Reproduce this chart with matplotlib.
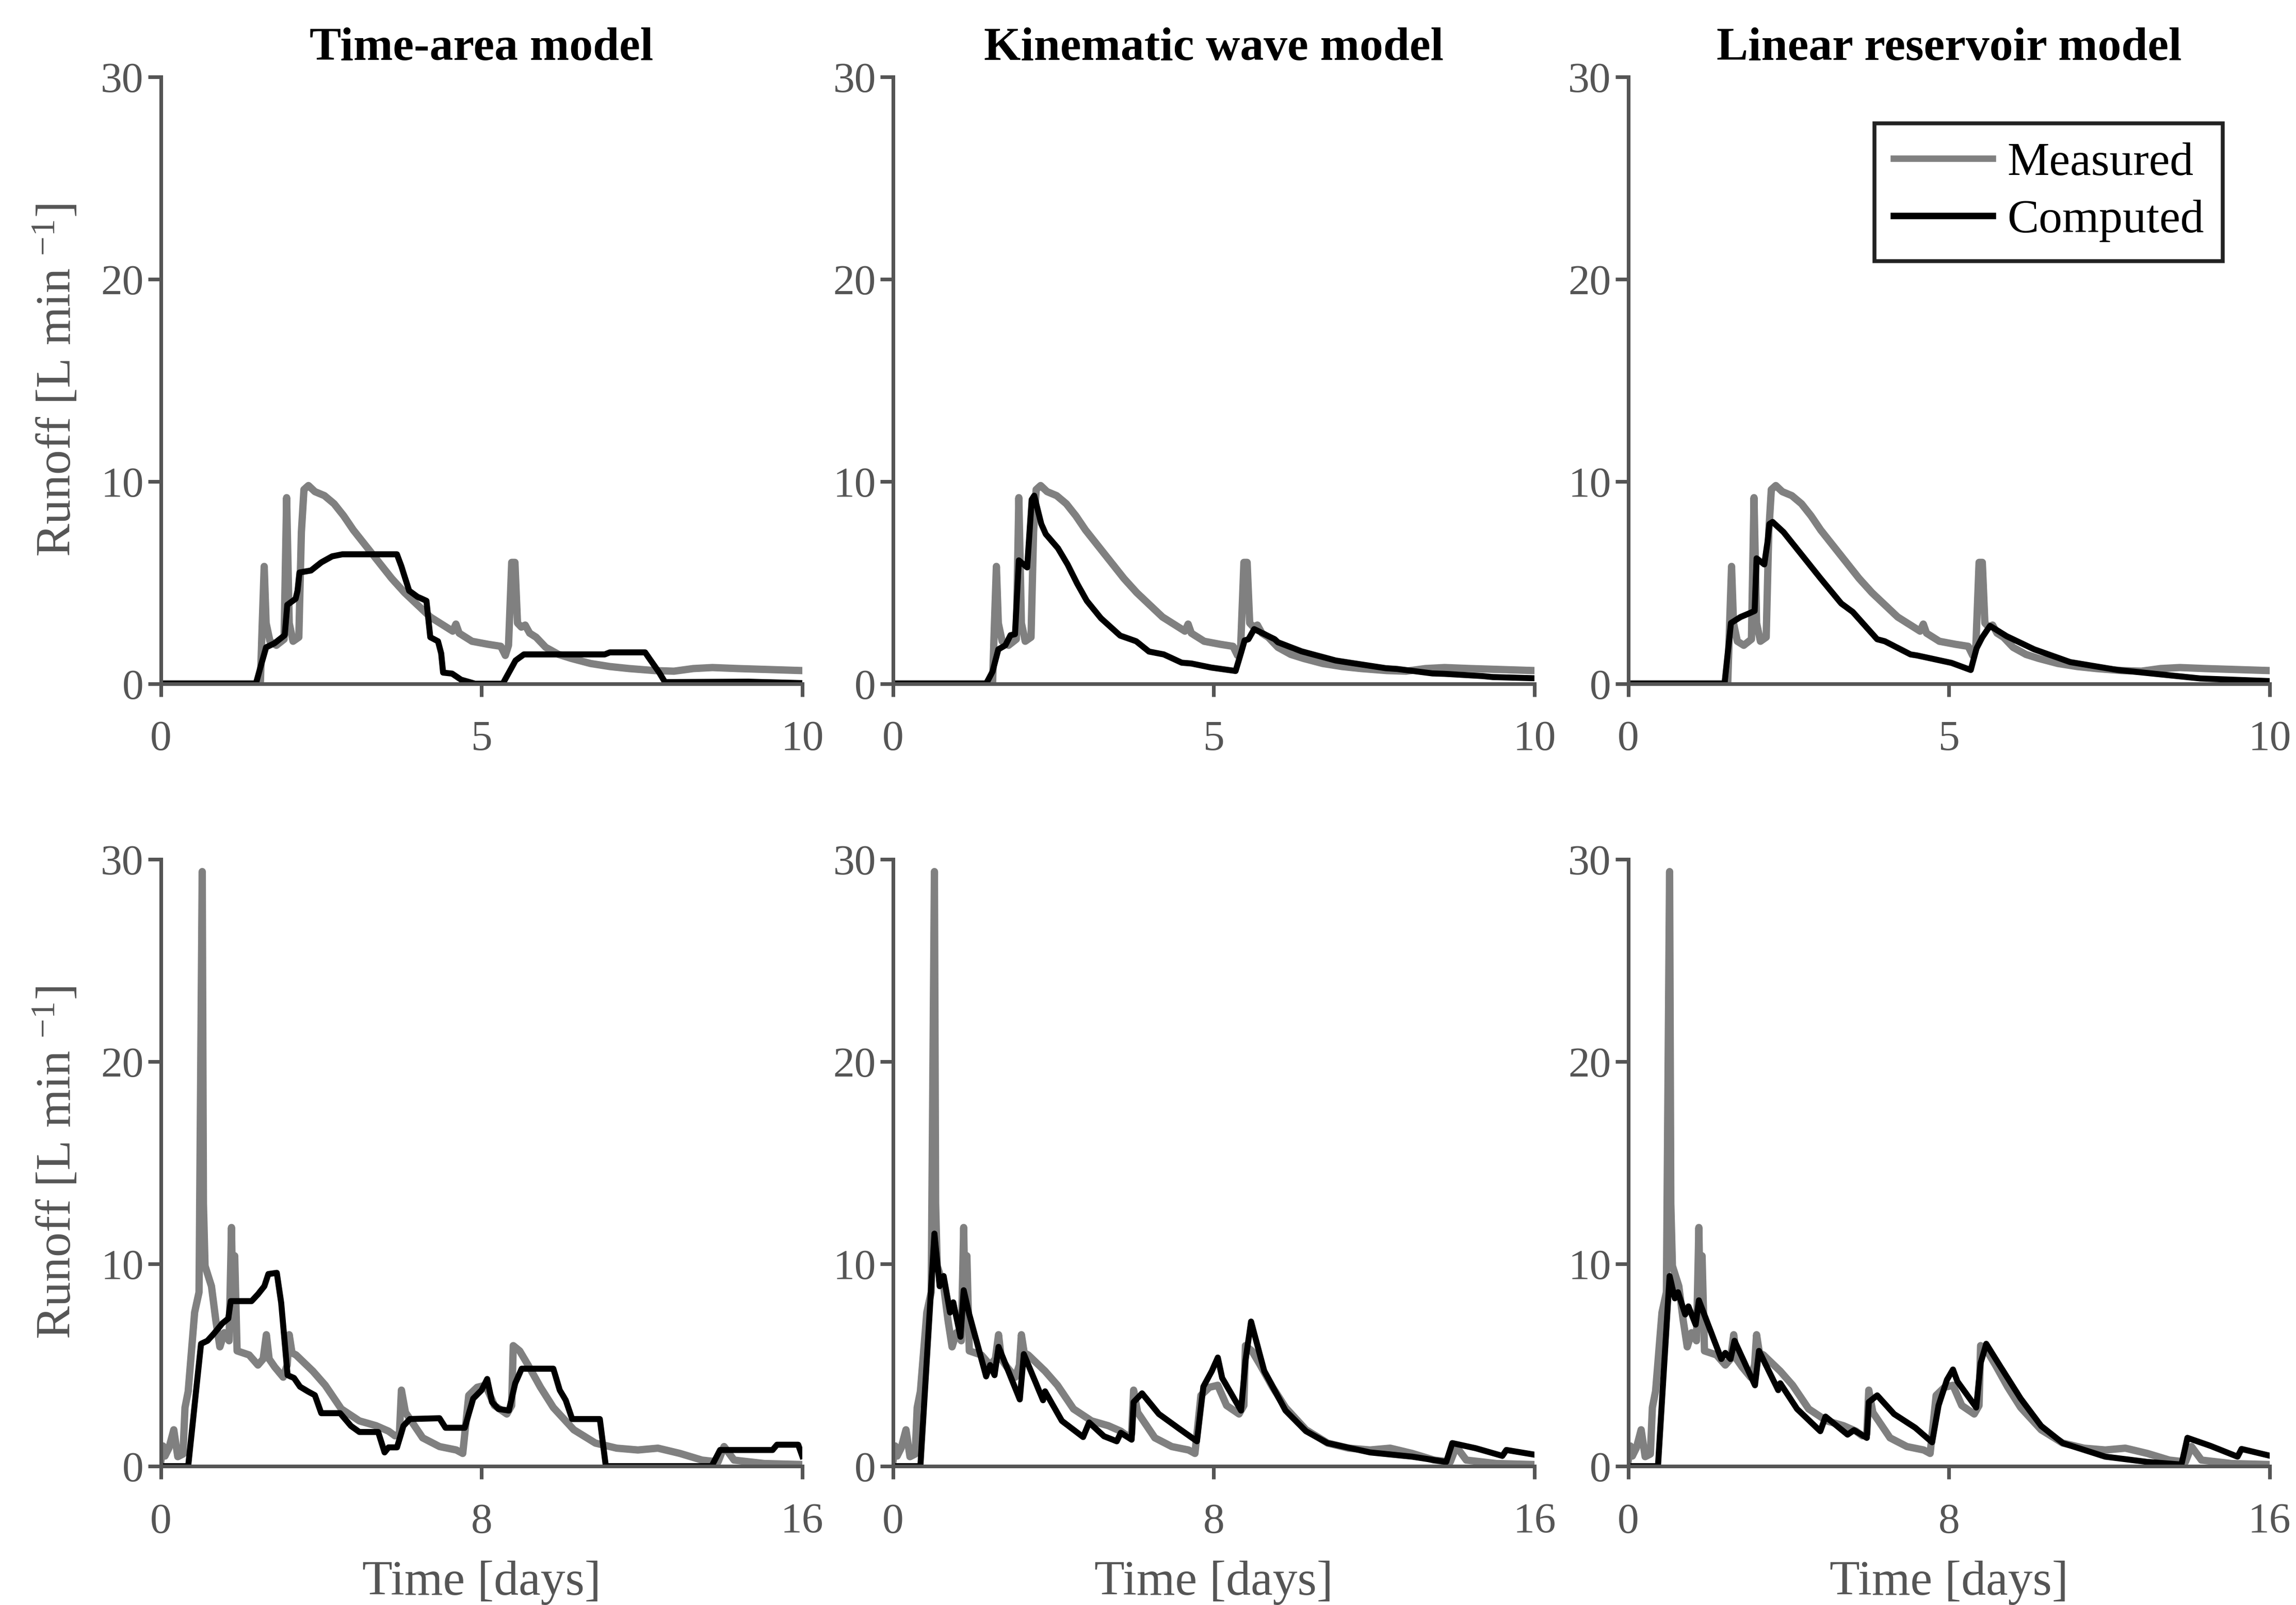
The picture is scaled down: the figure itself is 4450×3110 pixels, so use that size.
import matplotlib
matplotlib.use("Agg")
import matplotlib.pyplot as plt

plt.rcParams['font.family'] = ['Liberation Serif', 'DejaVu Serif']
plt.rcParams['mathtext.fontset'] = 'custom'
plt.rcParams['mathtext.rm'] = 'Liberation Serif'
plt.rcParams['mathtext.it'] = 'Liberation Serif:italic'

##### Data #####
titles = ['Time-area model', 'Kinematic wave model', 'Linear reservoir model']
series_labels = ['Measured', 'Computed']

# event 1 (top row), time in days
ev1_t_meas = [0, 1.55, 1.58, 1.61, 1.64, 1.70, 1.80, 1.92, 1.96, 2.00, 2.06, 2.15, 2.19, 2.23,
              2.30, 2.40, 2.55, 2.70, 2.85, 3.00, 3.20, 3.40, 3.60, 3.80, 4.00, 4.20, 4.40,
              4.55, 4.60, 4.65, 4.85, 5.10, 5.30, 5.37, 5.42, 5.47, 5.52, 5.56, 5.62, 5.68,
              5.75, 5.85, 6.00, 6.20, 6.40, 6.70, 7.00, 7.30, 7.70, 8.00, 8.30, 8.60, 9.00,
              9.50, 10.0]
ev1_q_meas = [0, 0, 3.0, 5.8, 3.0, 2.1, 1.9, 2.2, 9.2, 3.0, 2.1, 2.3, 7.5, 9.6,
              9.8, 9.5, 9.3, 8.9, 8.3, 7.6, 6.8, 6.0, 5.2, 4.5, 3.9, 3.3, 2.9,
              2.6, 2.95, 2.5, 2.1, 1.95, 1.85, 1.4, 1.9, 6.0, 6.0, 3.0, 2.8, 2.9,
              2.5, 2.3, 1.8, 1.45, 1.25, 1.0, 0.85, 0.75, 0.65, 0.62, 0.75, 0.8, 0.75,
              0.7, 0.65]

ev1_t_ta = [0, 1.48, 1.55, 1.64, 1.77, 1.89, 1.93, 1.97, 2.10, 2.13, 2.16, 2.34, 2.50, 2.67,
            2.83, 3.68, 3.75, 3.87, 4.00, 4.14, 4.20, 4.32, 4.37, 4.40, 4.54, 4.68, 4.90,
            5.33, 5.53, 5.66, 6.92, 7.00, 7.55, 7.77, 7.86, 9.16, 10.0]
ev1_q_ta = [0, 0, 0.8, 1.8, 2.0, 2.3, 2.4, 3.9, 4.2, 4.6, 5.5, 5.6, 6.0, 6.3,
            6.4, 6.4, 5.8, 4.6, 4.3, 4.1, 2.3, 2.1, 1.5, 0.55, 0.5, 0.2, 0.0,
            0.0, 1.15, 1.45, 1.45, 1.55, 1.55, 0.55, 0.08, 0.1, 0.03]

ev1_t_kw = [0, 1.45, 1.55, 1.64, 1.75, 1.83, 1.90, 1.96, 2.09, 2.16, 2.20, 2.31, 2.38, 2.57,
            2.72, 2.87, 3.02, 3.24, 3.54, 3.79, 3.99, 4.22, 4.50, 4.65, 4.96, 5.34, 5.43,
            5.48, 5.54, 5.63, 5.95, 6.00, 6.37, 6.90, 7.12, 7.68, 7.86, 8.41, 8.60, 9.19,
            9.35, 10.0]
ev1_q_kw = [0, 0, 0.6, 1.7, 1.9, 2.4, 2.45, 6.1, 5.75, 9.1, 9.3, 7.9, 7.4, 6.7,
            5.9, 4.95, 4.1, 3.24, 2.38, 2.1, 1.59, 1.45, 1.04, 1.0, 0.8, 0.63, 1.58,
            2.14, 2.2, 2.7, 2.2, 2.05, 1.6, 1.15, 1.04, 0.77, 0.73, 0.51, 0.49, 0.38,
            0.33, 0.27]

ev1_t_lr = [0, 1.50, 1.60, 1.75, 1.90, 1.97, 2.00, 2.12, 2.17, 2.20, 2.25, 2.42, 3.00, 3.32,
            3.50, 3.88, 4.00, 4.40, 4.50, 5.04, 5.34, 5.43, 5.52, 5.64, 5.90, 6.33, 6.89,
            7.63, 8.40, 8.92, 10.0]
ev1_q_lr = [0, 0, 3.0, 3.3, 3.5, 3.6, 6.2, 5.9, 7.0, 7.9, 8.0, 7.5, 5.2, 3.97,
            3.55, 2.2, 2.1, 1.45, 1.4, 1.03, 0.68, 1.75, 2.3, 2.86, 2.35, 1.7, 1.07,
            0.68, 0.43, 0.26, 0.13]

# event 2 (bottom row)
ev2_t_meas = [0, 0.05, 0.10, 0.20, 0.32, 0.42, 0.55, 0.60, 0.68, 0.84, 0.95, 1.03, 1.06, 1.10,
              1.26, 1.37, 1.47, 1.58, 1.70, 1.76, 1.80, 1.84, 1.90, 2.20, 2.42, 2.55, 2.63,
              2.70, 2.84, 3.05, 3.15, 3.20, 3.27, 3.37, 3.79, 4.10, 4.50, 4.95, 5.37, 5.68,
              5.84, 5.95, 6.00, 6.10, 6.53, 6.95, 7.37, 7.53, 7.68, 7.89, 8.10, 8.32, 8.63,
              8.75, 8.79, 8.95, 9.16, 9.47, 9.79, 10.3, 10.84, 11.37, 11.9, 12.4, 12.95,
              13.5, 13.9, 14.05, 14.3, 15.05, 16.0]
ev2_q_meas = [0.3, 1.0, 0.5, 0.9, 1.8, 0.47, 0.6, 2.9, 3.7, 7.6, 8.6, 29.4, 13.0, 9.9,
              8.9, 7.2, 5.9, 6.6, 6.2, 11.8, 7.0, 10.4, 5.7, 5.5, 5.0, 5.3, 6.5,
              5.3, 4.9, 4.4, 5.0, 6.5, 5.6, 5.5, 4.7, 4.0, 2.83, 2.24, 2.0, 1.73,
              1.5, 1.6, 3.76, 2.66, 1.4, 0.97, 0.8, 0.63, 3.5, 3.9, 4.0, 3.0, 2.58,
              3.0, 5.96, 5.7, 5.0, 3.9, 2.9, 1.8, 1.14, 0.89, 0.8, 0.89, 0.63,
              0.3, 0.21, 0.97, 0.3, 0.13, 0.08]

ev2_t_ta = [0, 0.68, 1.00, 1.16, 1.32, 1.53, 1.68, 1.74, 2.26, 2.42, 2.58, 2.68, 2.89, 3.00,
            3.16, 3.32, 3.47, 3.68, 3.84, 4.00, 4.47, 4.74, 4.95, 5.42, 5.58, 5.68, 5.89,
            6.05, 6.21, 6.95, 7.10, 7.58, 7.79, 8.00, 8.14, 8.26, 8.42, 8.68, 8.84, 9.00,
            9.79, 9.95, 10.1, 10.26, 10.95, 11.1, 13.74, 13.95, 15.26, 15.37, 15.9, 16.0]
ev2_q_ta = [0, 0, 6.05, 6.2, 6.55, 7.06, 7.3, 8.16, 8.16, 8.5, 8.9, 9.5, 9.56, 8.08,
            4.5, 4.36, 3.93, 3.68, 3.51, 2.62, 2.62, 1.99, 1.69, 1.69, 0.68, 0.93, 0.93,
            1.99, 2.33, 2.37, 1.9, 1.9, 3.34, 3.76, 4.31, 3.17, 2.83, 2.75, 4.1, 4.82,
            4.82, 3.76, 3.26, 2.33, 2.33, 0, 0, 0.8, 0.8, 1.06, 1.06, 0.5]

ev2_t_kw = [0, 0.68, 1.03, 1.16, 1.26, 1.42, 1.50, 1.68, 1.76, 1.90, 2.32, 2.42, 2.53, 2.63,
            3.16, 3.26, 3.74, 3.79, 4.21, 4.74, 4.89, 5.26, 5.58, 5.68, 5.95, 6.00, 6.21,
            6.63, 7.16, 7.58, 7.74, 7.95, 8.10, 8.21, 8.68, 8.79, 8.93, 9.26, 9.79, 10.3,
            10.84, 11.9, 12.95, 13.8, 13.95, 14.53, 15.2, 15.3, 16.0]
ev2_q_kw = [0, 0, 11.5, 8.9, 9.4, 7.6, 8.1, 6.4, 8.7, 7.5, 4.44, 5.0, 4.5, 5.9,
            3.3, 5.54, 3.26, 3.7, 2.24, 1.44, 2.16, 1.48, 1.23, 1.65, 1.31, 3.17, 3.6,
            2.58, 1.82, 1.23, 3.93, 4.7, 5.37, 4.36, 2.75, 5.2, 7.15, 4.7, 2.75, 1.73,
            1.14, 0.68, 0.47, 0.21, 1.14, 0.89, 0.51, 0.8, 0.57]

ev2_t_lr = [0, 0.74, 1.03, 1.16, 1.24, 1.42, 1.50, 1.68, 1.76, 2.32, 2.42, 2.55, 2.65, 3.16,
            3.26, 3.74, 3.79, 4.21, 4.79, 4.92, 5.47, 5.63, 5.95, 6.00, 6.21, 6.63, 7.16,
            7.58, 7.74, 7.95, 8.10, 8.21, 8.68, 8.79, 8.93, 9.26, 9.79, 10.3, 10.84, 11.9,
            12.95, 13.8, 13.95, 14.53, 15.2, 15.3, 16.0]
ev2_q_lr = [0, 0, 9.4, 8.3, 8.6, 7.5, 7.9, 7.0, 8.2, 5.3, 5.6, 5.3, 6.2, 4.0,
            5.7, 3.76, 4.1, 2.83, 1.73, 2.45, 1.56, 1.78, 1.4, 3.17, 3.5, 2.58, 1.9,
            1.18, 3.0, 4.27, 4.78, 4.19, 2.9, 5.1, 6.05, 5.0, 3.34, 1.99, 1.14, 0.47,
            0.21, 0.08, 1.4, 1.0, 0.47, 0.85, 0.52]

rows = [
    dict(t_meas=ev1_t_meas, q_meas=ev1_q_meas,
         comp=[(ev1_t_ta, ev1_q_ta), (ev1_t_kw, ev1_q_kw), (ev1_t_lr, ev1_q_lr)],
         xmax=10, xticks=[0, 5, 10]),
    dict(t_meas=ev2_t_meas, q_meas=ev2_q_meas,
         comp=[(ev2_t_ta, ev2_q_ta), (ev2_t_kw, ev2_q_kw), (ev2_t_lr, ev2_q_lr)],
         xmax=16, xticks=[0, 8, 16]),
]

##### Graphics #####
GREY = '#808080'
AXC = '#555555'

fig = plt.figure(figsize=(4450 / 300, 3110 / 300), dpi=300)

lefts = [0.0701, 0.389, 0.7092]
bottoms = [0.574, 0.0865]
width, height = 0.2793, 0.378

for r, row in enumerate(rows):
    for c in range(3):
        ax = fig.add_axes([lefts[c], bottoms[r], width, height])
        ax.plot(row['t_meas'], row['q_meas'], color=GREY, lw=3.4, label=series_labels[0],
                solid_joinstyle='round')
        tc, qc = row['comp'][c]
        ax.plot(tc, qc, color='black', lw=2.8, label=series_labels[1], solid_joinstyle='round')

        ax.set_xlim(0, row['xmax'])
        ax.set_ylim(0, 30)
        ax.set_xticks(row['xticks'])
        ax.set_yticks([0, 10, 20, 30])
        for s in ['top', 'right']:
            ax.spines[s].set_visible(False)
        for s in ['left', 'bottom']:
            ax.spines[s].set_color(AXC)
            ax.spines[s].set_linewidth(1.7)
        ax.tick_params(axis='both', direction='out', length=6, width=1.7, color=AXC,
                       labelcolor='#555555', labelsize=20)
        ax.tick_params(axis='x', pad=11)
        ax.tick_params(axis='y', pad=2)

        if r == 0:
            ax.set_title(titles[c], fontsize=22, fontweight='bold', pad=8)
        else:
            ax.set_xlabel('Time [days]', fontsize=23, color='#555555')
            ax.xaxis.set_label_coords(0.5, -0.155)
        if c == 0:
            ax.set_ylabel('Runoff [L min $^{-1}$]', fontsize=23, color='#555555')
            ax.yaxis.set_label_coords(-0.125, 0.5)
        if r == 0 and c == 2:
            leg = ax.legend(loc='upper right', bbox_to_anchor=(0.927, 0.924), borderaxespad=0,
                            fontsize=22, fancybox=False, framealpha=1, handlelength=2.1,
                            handletextpad=0.3, labelspacing=0.3, borderpad=0.4)
            leg.get_frame().set_edgecolor('#222222')
            leg.get_frame().set_linewidth(1.8)
            for line in leg.get_lines():
                line.set_linewidth(3.0)

fig.savefig('out.png', dpi=300)
